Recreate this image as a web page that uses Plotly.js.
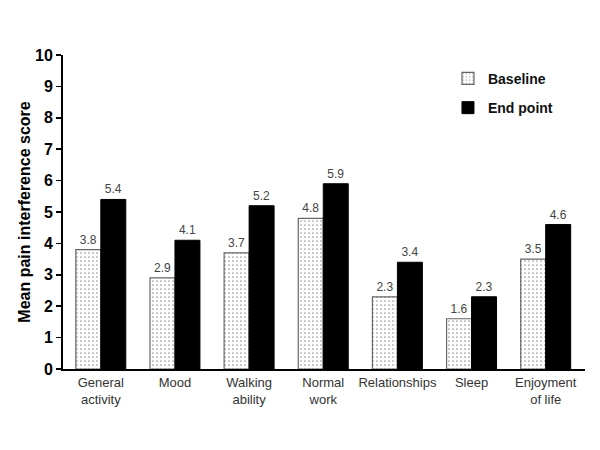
<!DOCTYPE html>
<html><head><meta charset="utf-8">
<script src="https://cdn.plot.ly/plotly-3.0.1.min.js"></script>
<style>body{margin:0;background:#fff}#c{width:600px;height:450px}</style>
</head><body><div id="c"></div>
<script>
const categories = ["General<br>activity","Mood","Walking<br>ability","Normal<br>work","Relationships","Sleep","Enjoyment<br>of life"];
const baseline = [3.8, 2.9, 3.7, 4.8, 2.3, 1.6, 3.5];
const endpoint = [5.4, 4.1, 5.2, 5.9, 3.4, 2.3, 4.6];
const yTicks = [0,1,2,3,4,5,6,7,8,9,10];
const F = "Liberation Sans, Arial, sans-serif";
const xIdx = categories.map((c,i)=>i);
const traces = [
 {type:"bar", name:"Baseline", legendgroup:"a", x:xIdx, y:baseline, text:baseline.map(v=>v.toFixed(1)),
  textposition:"outside", cliponaxis:false, textfont:{family:F,size:12,color:"#444"},
  marker:{color:"#fff", line:{color:"#666",width:1.2}, pattern:{shape:".",fgcolor:"#999",bgcolor:"#fff",size:4,solidity:0.15}}},
 {type:"bar", name:"End point", legendgroup:"b", x:xIdx, y:endpoint, text:endpoint.map(v=>v.toFixed(1)),
  textposition:"outside", cliponaxis:false, textfont:{family:F,size:12,color:"#444"},
  marker:{color:"#000", line:{color:"#000",width:1}}}
];
const layout = {
 width:600, height:450, margin:{l:63,r:15,t:55,b:81},
 paper_bgcolor:"#fff", plot_bgcolor:"#fff",
 barmode:"group", bargap:0.326, bargroupgap:0,
 font:{family:F, color:"#000"},
 showlegend:true,
 legend:{x:0.7375, y:0.975, xanchor:"left", yanchor:"top", font:{family:F,size:14,color:"#111",weight:"bold"}, tracegroupgap:8, bgcolor:"rgba(0,0,0,0)"},
 xaxis:{range:[-0.51,6.53], tickmode:"array", tickvals:xIdx, ticktext:categories, showline:true, linecolor:"#000", linewidth:2, ticks:"", showgrid:false, zeroline:false, tickfont:{family:F,size:13,color:"#333"}, fixedrange:true},
 yaxis:{range:[0,10], tickmode:"array", tickvals:yTicks, ticktext:yTicks.map(String), showline:true, linecolor:"#000", linewidth:2, ticks:"outside", ticklen:5, tickwidth:1.5, tickcolor:"#000", showgrid:false, zeroline:false,
  tickfont:{family:F,size:16,color:"#000",weight:"bold"},
  title:{text:"Mean pain interference score", font:{family:F,size:16,color:"#000",weight:"bold"}, standoff:0}}
};
Plotly.newPlot("c", traces, layout, {displayModeBar:false, staticPlot:true});
</script></body></html>
